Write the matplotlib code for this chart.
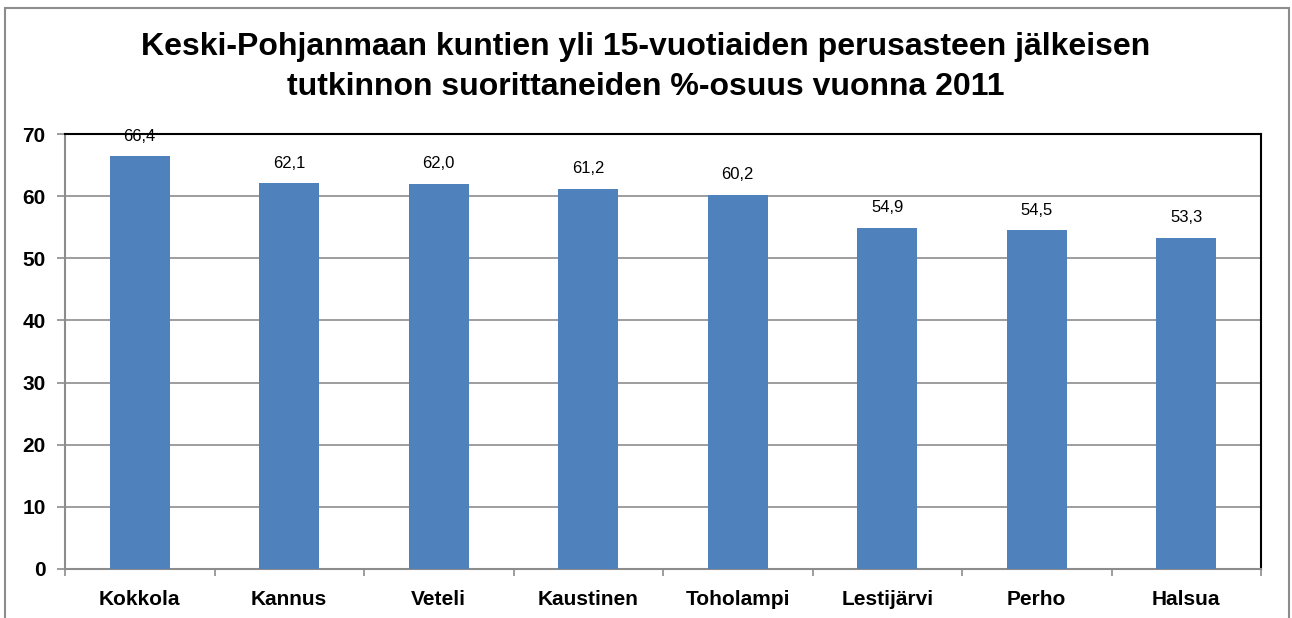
import matplotlib
matplotlib.use("Agg")
import matplotlib.pyplot as plt
from matplotlib.patches import Rectangle

categories = ["Kokkola", "Kannus", "Veteli", "Kaustinen", "Toholampi", "Lestijärvi", "Perho", "Halsua"]
values = [66.4, 62.1, 62.0, 61.2, 60.2, 54.9, 54.5, 53.3]
yticks = [0, 10, 20, 30, 40, 50, 60, 70]
title = "Keski-Pohjanmaan kuntien yli 15-vuotiaiden perusasteen jälkeisen\ntutkinnon suorittaneiden %-osuus vuonna 2011"

plt.rcParams['font.family'] = ['Liberation Sans', 'DejaVu Sans']

W, H = 1292, 618
fig = plt.figure(figsize=(W / 100, H / 100), dpi=100)
fig.patch.set_facecolor("white")

# outer frame (bottom edge cut off)
fig.add_artist(Rectangle((5 / W, -0.05), (1289 - 5) / W, 1 - 8 / H + 0.05,
                         transform=fig.transFigure, fill=False,
                         edgecolor="#8c8c8c", linewidth=1.5))

left, right, top, bottom = 65, 1261, 134, 569
ax = fig.add_axes([left / W, 1 - bottom / H, (right - left) / W, (bottom - top) / H])

x = list(range(len(categories)))
ax.bar(x, values, width=0.4, color="#4F81BD", zorder=3)
for xi, v in zip(x, values):
    ax.text(xi, v + 2.0, f"{v:.1f}".replace(".", ","), ha="center", va="bottom",
            fontsize=12, color="black", zorder=4)

ax.set_xlim(-0.5, len(categories) - 0.5)
ax.set_ylim(0, 70)
ax.set_yticks(yticks)
ax.set_yticklabels([str(t) for t in yticks], fontsize=15, fontweight="bold")
ax.yaxis.grid(True, color="#8c8c8c", linewidth=1.2, zorder=0)
ax.set_axisbelow(True)

ax.set_xticks(x)
ax.set_xticklabels(categories, fontsize=15, fontweight="bold")
ax.tick_params(axis="x", length=0, pad=15)
ax.set_xticks([i - 0.5 for i in range(len(categories) + 1)], minor=True)
ax.tick_params(axis="x", which="minor", length=5, color="#8c8c8c", width=1.2)
ax.tick_params(axis="y", length=6, color="#8c8c8c", width=1.2, pad=8)

ax.spines["left"].set_color("#8c8c8c")
ax.spines["left"].set_linewidth(1.5)
ax.spines["bottom"].set_color("#8c8c8c")
ax.spines["bottom"].set_linewidth(1.5)
ax.spines["top"].set_color("black")
ax.spines["top"].set_linewidth(1.5)
ax.spines["right"].set_color("black")
ax.spines["right"].set_linewidth(1.5)

fig.text(0.5, 1 - 67 / H, title, ha="center", va="center", fontsize=23,
         fontweight="bold", linespacing=1.45)

fig.savefig("out.png", dpi=100)
